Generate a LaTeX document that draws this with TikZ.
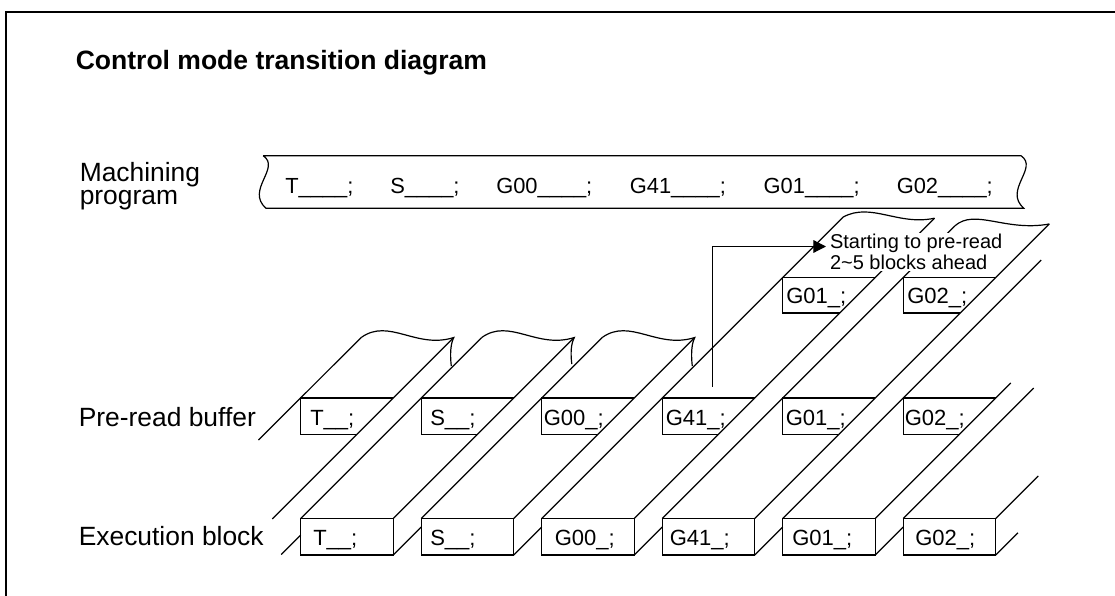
\documentclass[tikz,border=0pt]{standalone}
\usepackage{fontspec}
\setmainfont{Liberation Sans}
\usepackage{tikz}
\usetikzlibrary{arrows.meta}
\definecolor{CMInk}  {HTML}{000000}
\definecolor{CMPaper}{HTML}{FFFFFF}

\tikzset{
  tape/.style={draw=CMInk,line width=0.9pt,line join=miter},
  rowtext/.style={font=\fontsize{19.8}{17.3}\selectfont,text=CMInk,anchor=base west,inner sep=0pt,align=left},
  progtext/.style={font=\fontsize{16.4}{19}\selectfont,text=CMInk,anchor=base west,inner sep=0pt},
  boxtext/.style={font=\fontsize{16.5}{19}\selectfont,text=CMInk,anchor=base west,inner sep=0pt}
}

\begin{document}
\begin{tikzpicture}[x=0.75pt,y=-0.75pt]
    \useasboundingbox (0,0) rectangle (1115,596);
    \clip (0,0) rectangle (1115,596);
    % Frame and title
    \draw[CMInk,line width=1.5pt] (5.7,620) -- (5.7,11.7) -- (1130,11.7);
    \node[font=\fontsize{19.9}{24}\selectfont\bfseries,text=CMInk,anchor=base west,inner sep=0pt]
      (title) at (75.5,69.3) {Control mode transition diagram};

    % Row labels (base is the last line)
    \node[rowtext] (lblprog) at (79.5,204.5) {Machining\\program};
    \node[rowtext] (lblpre)  at (78.5,426)   {Pre-read buffer};
    \node[rowtext] (lblexe)  at (78.5,545.5) {Execution block};

    % Machining program strip
    \draw[tape] (263.2,155.7) -- (1021,155.7)
      .. controls (1039,168) and (1003,190) .. (1023.8,208.3) -- (266,208.3)
      .. controls (245.2,190) and (281.2,168) .. (263.2,155.7);
    \node[progtext] (progT)   at (285,193.8)   {T\_\_\_\_;};
    \node[progtext] (progS)   at (390,193.8)   {S\_\_\_\_;};
    \node[progtext] (progG00) at (496,193.8)   {G00\_\_\_\_;};
    \node[progtext] (progG41) at (629.6,193.8) {G41\_\_\_\_;};
    \node[progtext] (progG01) at (763.4,193.8) {G01\_\_\_\_;};
    \node[progtext] (progG02) at (896.5,193.8) {G02\_\_\_\_;};

    % Tape edges hidden behind the note
    \draw[tape] (634.3,518.5) -- (934.5,218.2);
    \draw[tape] (662.2,518.5) -- (954.7,226);
    \node[font=\fontsize{15}{15.75}\selectfont,text=CMInk,fill=CMPaper,align=left,inner sep=1pt,anchor=north west]
      (note) at (828.4,232.4) {Starting to pre-read\\2\textasciitilde5 blocks ahead};

    % Tape edges
    \draw[tape] (258.5,440) -- (361.2,337.5);
    \draw[tape] (272.3,519) -- (453.8,337.5);
    \draw[tape] (300.7,518.5) -- (481.7,337.5);
    \draw[tape] (393.3,518.5) -- (574.3,337.5);
    \draw[tape] (421.2,518.5) -- (602.2,337.5);
    \draw[tape] (513.8,518.5) -- (694.8,337.5);
    \draw[tape] (541.7,518.5) -- (843.2,217);
    \draw[tape] (754.8,518.5) -- (1049.3,224);
    \draw[tape] (782.7,518.5) -- (1041.2,260);
    \draw[tape] (875.3,518.5) -- (1010.8,383);
    \draw[tape] (903.2,518.5) -- (1033.7,388);
    \draw[tape] (995.8,518.5) -- (1038.3,476);

    % Torn tape ends
    \draw[tape] (361.2,337.5) .. controls (389.2,317.5) and (416.2,349.5) .. (453.8,337.5)
      .. controls (449.8,345) and (450.3,358) .. (451.3,366);
    \draw[tape] (481.7,337.5) .. controls (509.7,317.5) and (536.7,349.5) .. (574.3,337.5)
      .. controls (570.3,345) and (570.8,356) .. (571.8,364);
    \draw[tape] (602.2,337.5) .. controls (630.2,317.5) and (657.2,349.5) .. (694.8,337.5)
      .. controls (690.8,345) and (691.3,358) .. (692.3,366);
    \draw[tape] (843.2,217) .. controls (871.2,202) and (898.2,226) .. (934.5,218.2);
    \draw[tape] (954.7,226) .. controls (975,208) and (1005,232) .. (1049.3,224);

    % Upper pre-read blocks
    \draw[tape] (875.3,277.5) -- (782.7,277.5) -- (782.7,313) -- (839.8,313);
    \draw[tape] (995.8,277.5) -- (903.2,277.5) -- (903.2,313) -- (960.3,313);
    \node[boxtext] (upG01) at (786,303.3) {G01\_;};
    \node[boxtext] (upG02) at (907,303.3) {G02\_;};

    % Pre-read buffer
    \draw[tape] (393.3,398) -- (300.7,398) -- (300.7,434.5) -- (356.8,434.5);
    \draw[tape] (513.8,398) -- (421.2,398) -- (421.2,434.5) -- (477.3,434.5);
    \draw[tape] (634.3,398) -- (541.7,398) -- (541.7,434.5) -- (597.8,434.5);
    \draw[tape] (754.8,398) -- (662.2,398) -- (662.2,434.5) -- (718.3,434.5);
    \draw[tape] (875.3,398) -- (782.7,398) -- (782.7,434.5) -- (838.8,434.5);
    \draw[tape] (995.8,398) -- (903.2,398) -- (903.2,434.5) -- (959.3,434.5);
    \node[boxtext] (preT)   at (310,425)   {T\_\_;};
    \node[boxtext] (preS)   at (430,425)   {S\_\_;};
    \node[boxtext] (preG00) at (543.5,425) {G00\_;};
    \node[boxtext] (preG41) at (665.5,425) {G41\_;};
    \node[boxtext] (preG01) at (785.5,425) {G01\_;};
    \node[boxtext] (preG02) at (904.5,425) {G02\_;};

    % Execution blocks
    \draw[tape] (281.2,554.5) -- (300.7,535);
    \draw[tape] (300.7,518.5) rectangle (393.3,555);
    \draw[tape] (421.2,518.5) rectangle (513.8,555);
    \draw[tape] (541.7,518.5) rectangle (634.3,555);
    \draw[tape] (662.2,518.5) rectangle (754.8,555);
    \draw[tape] (782.7,518.5) rectangle (875.3,555);
    \draw[tape] (903.2,518.5) rectangle (995.8,555);
    \draw[tape] (393.3,555) -- (421.2,527.1);
    \draw[tape] (513.8,555) -- (541.7,527.1);
    \draw[tape] (634.3,555) -- (662.2,527.1);
    \draw[tape] (754.8,555) -- (782.7,527.1);
    \draw[tape] (875.3,555) -- (903.2,527.1);
    \draw[tape] (995.8,555) -- (1018,532.8);
    \node[boxtext] (exeT)   at (313,545.5)   {T\_\_;};
    \node[boxtext] (exeS)   at (430,545.5)   {S\_\_;};
    \node[boxtext] (exeG00) at (554.5,545.5) {G00\_;};
    \node[boxtext] (exeG41) at (669.5,545.5) {G41\_;};
    \node[boxtext] (exeG01) at (792,545.5)   {G01\_;};
    \node[boxtext] (exeG02) at (915,545.5)   {G02\_;};

    % Pre-read start arrow
    \coordinate (arrowfoot) at (712.3,386.7);
    \coordinate (arrowtip)  at (826,246.5);
    \draw[tape,-{Triangle[length=9.5pt,width=9.5pt]}] (arrowfoot) |- (arrowtip);
  \end{tikzpicture}
\end{document}
